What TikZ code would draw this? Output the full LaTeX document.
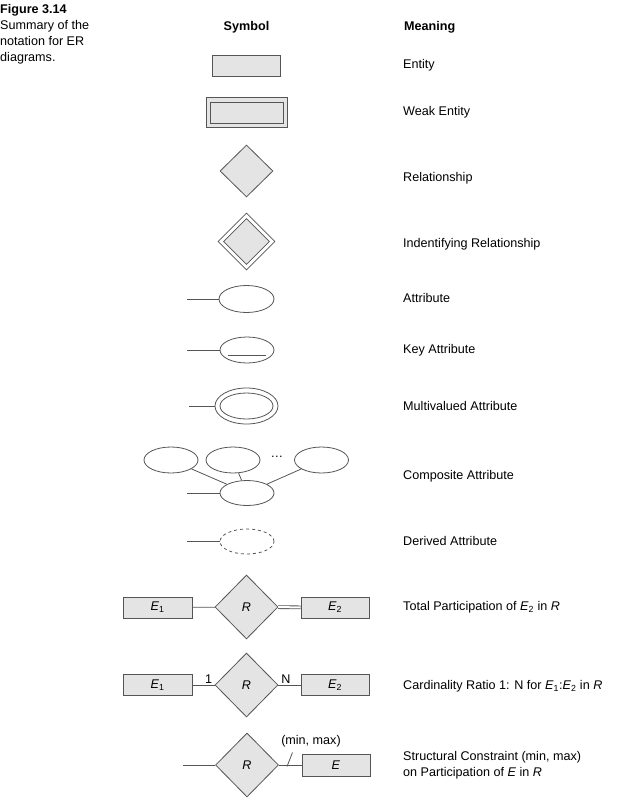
\documentclass[tikz,border=0pt]{standalone}
\usepackage{fontspec}
\setmainfont{Liberation Sans}
\usetikzlibrary{shapes.geometric}
\definecolor{boxfill}{HTML}{E4E4E4}
\definecolor{linegray}{HTML}{555555}
\newcommand{\Ent}[1]{\textit{E}\textsubscript{#1}}
\begin{document}
\begin{tikzpicture}[x=1pt,y=-1pt,font=\fontsize{12.6}{16}\selectfont]
    \useasboundingbox (0,0) rectangle (623,809);
    \begin{scope}
        \tikzstyle{every node}=[inner sep=0, text=black]
        \node[anchor=north west, align=left] (cap) at (0,4) {\textbf{Figure 3.14}\\Summary of the\\notation for ER\\diagrams.};
        \node[font=\fontsize{12.6}{16}\selectfont\bfseries] (sym) at (246.5,27) {Symbol};
        \node[anchor=west, font=\fontsize{12.6}{16}\selectfont\bfseries] (mea) at (404,27) {Meaning};
    \end{scope}
    \begin{scope}
        \tikzstyle{every node}=[draw=linegray, line width=0.8pt, inner sep=0, text=black]
        \tikzstyle{ent}=[rectangle, fill=boxfill, minimum width=68, minimum height=21]
        \tikzstyle{rel}=[diamond, fill=boxfill, minimum width=63, minimum height=64]
        \tikzstyle{attr}=[ellipse, fill=white, minimum width=54, minimum height=26]
        % entities and relationships
        \node[ent] (e) at (246,65.5) {};
        \node[ent, minimum width=81, minimum height=30] (we) at (246.5,112) {};
        \node[ent, minimum width=73, minimum height=21] (we2) at (246.5,112.5) {};
        \node[rel, minimum width=53, minimum height=52] (r) at (246.5,171) {};
        \node[rel, fill=white, minimum width=57, minimum height=57] (ir) at (246.5,241.5) {};
        \node[rel, minimum width=46, minimum height=46] (ir2) at (246.5,241.5) {};
        % attributes
        \node[attr, minimum width=55, minimum height=27] (a) at (246.5,299) {};
        \node[attr] (ka) at (247,350) {};
        \node[attr, minimum width=63, minimum height=36] (ma) at (246.5,406) {};
        \node[attr, minimum width=53, minimum height=26] (ma2) at (246.5,406) {};
        \node[attr, minimum height=25] (ca) at (247,493) {};
        \node[attr] (c1) at (171,460) {};
        \node[attr] (c2) at (233,460) {};
        \node[attr] (c3) at (321.5,460) {};
        \node[draw=none] (dots) at (277,457) {\dots};
        \node[attr, dashed, minimum height=25] (da) at (247,541.5) {};
        % participation
        \node[ent, minimum width=69] (tp1) at (157.5,607.5) {\Ent{1}};
        \node[rel] (tpr) at (246.5,607) {\textit{R}};
        \node[ent] (tp2) at (335,607.5) {\Ent{2}};
        \node[ent, minimum width=69] (cr1) at (157.5,685) {\Ent{1}};
        \node[rel] (crr) at (246.5,685) {\textit{R}};
        \node[ent] (cr2) at (335,685) {\Ent{2}};
        \node[rel] (scr) at (247,765) {\textit{R}};
        \node[ent, minimum height=22] (sce) at (336,765) {\textit{E}};
        \node[draw=none] (mm) at (311,741) {(min, max)};
    \end{scope}
    \coordinate (a0) at (187,299);
    \coordinate (ka0) at (187,350);
    \coordinate (ku1) at (228,355);
    \coordinate (ku2) at (266,355);
    \coordinate (ma0) at (189,406);
    \coordinate (ca0) at (187,493);
    \coordinate (da0) at (187,541.5);
    \coordinate (sc0) at (183,765);
    \coordinate (t1) at (287,766.5);
    \coordinate (t2) at (292.5,752.5);
    \begin{scope}
        \tikzstyle{every edge}=[draw=linegray, line width=0.8pt]
        \path
        (a0) edge (a)
        (ka0) edge (ka)
        (ku1) edge (ku2)
        (ma0) edge (ma)
        (ca0) edge (ca)
        (c1) edge (ca)
        (c2) edge (ca)
        (c3) edge (ca)
        (da0) edge (da)
        (tp1) edge (tpr)
        (tpr) edge[double=white, double distance=2pt, line width=0.8pt] (tp2)
        (cr1) edge node[pos=1, anchor=south east, xshift=-1pt, inner sep=1pt] {1} (crr)
        (crr) edge node[pos=0, anchor=south west, xshift=1.5pt, inner sep=1pt] {N} (cr2)
        (sc0) edge (scr)
        (scr) edge (sce)
        (t1) edge (t2)
        ;
    \end{scope}
    \begin{scope}
        \tikzstyle{every node}=[anchor=west, inner sep=0, text=black, align=left]
        \node (m1) at (403,65) {Entity};
        \node (m2) at (403,112) {Weak Entity};
        \node (m3) at (403,178) {Relationship};
        \node (m4) at (403,244) {Indentifying Relationship};
        \node (m5) at (403,298) {Attribute};
        \node (m6) at (403,350) {Key Attribute};
        \node (m7) at (403,406) {Multivalued Attribute};
        \node (m8) at (403,476) {Composite Attribute};
        \node (m9) at (403,541) {Derived Attribute};
        \node (m10) at (403,607) {Total Participation of \Ent{2} in \textit{R}};
        \node (m11) at (403,686) {Cardinality Ratio 1: N for \Ent{1}:\Ent{2} in \textit{R}};
        \node (m12) at (403,765) {Structural Constraint (min, max)\\on Participation of \textit{E} in \textit{R}};
    \end{scope}
\end{tikzpicture}
\end{document}
